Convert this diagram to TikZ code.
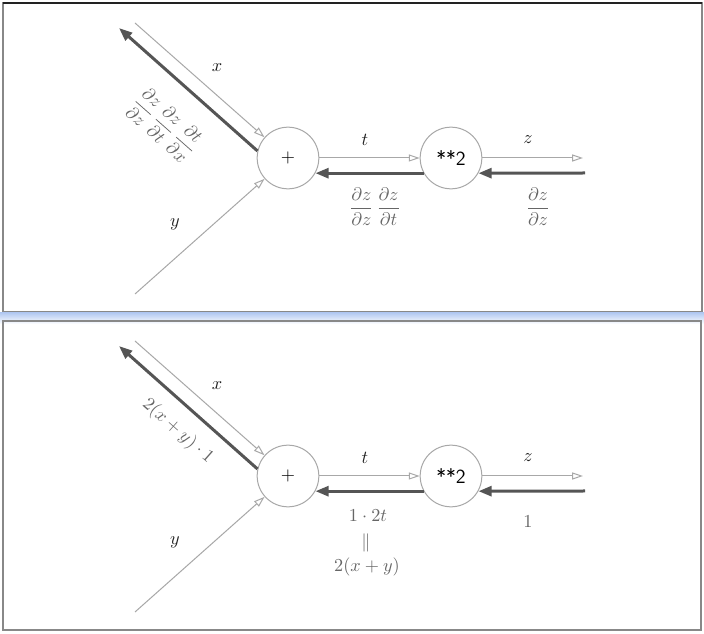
\documentclass[tikz,border=0pt]{standalone}
\usepackage{amsmath}
\usetikzlibrary{arrows.meta,calc}
\definecolor{lightc}{HTML}{A8A8A8}
\definecolor{darkc}{HTML}{555555}
\definecolor{circc}{HTML}{A8A8A8}
\definecolor{labc}{HTML}{222222}
\definecolor{derc}{HTML}{666666}
\definecolor{framec}{HTML}{888888}
\definecolor{bandc}{HTML}{B4CAF2}
\begin{document}
\begin{tikzpicture}[x=0.6pt,y=-0.6pt,
  font=\fontsize{10.95}{13}\selectfont,
  op/.style={circle,draw=circc,line width=0.6pt,minimum size=37pt,inner sep=0pt,fill=white},
  lightarr/.style={draw=lightc,line width=0.6pt,-{Triangle[open,length=6.5pt,width=4.2pt,fill=white]}},
  darkarr/.style={draw=darkc,line width=1.8pt,-{Triangle[length=8pt,width=6pt]}},
  lab/.style={text=labc,inner sep=0pt},
  der/.style={text=derc,inner sep=0pt},
  frame/.style={draw=framec,line width=0.9pt}]
\useasboundingbox (0,0) rectangle (704,634);
\fill[white] (0,0) rectangle (704,634);
% panels
\draw[frame] (3,3) rectangle (702,312);
\draw[labc,line width=1.2pt] (3,3) -- (702,3);
\shade[top color=bandc,bottom color=white] (0,313) rectangle (704,324);
\draw[frame] (3,321) rectangle (701,630);

% ---------- top panel ----------
\node[op] (plus1) at (288,158) {$+$};
\node[op] (sq1) at (451,158) {\sffamily\large **2};
\coordinate (xs1) at (135,23);
\coordinate (xd1) at (119,28);
\coordinate (ys1) at (135,294);
\coordinate (zs1) at (583,158);
\coordinate (zd1) at (585,173);
\draw[lightarr] (xs1) -- (plus1);
\draw[lightarr] (ys1) -- (plus1);
\draw[lightarr] (plus1) -- (sq1);
\draw[lightarr] (sq1) -- (zs1);
\draw[darkarr] (plus1.167.6) -- (xd1);
\draw[darkarr] (sq1.209.5) -- (plus1.-29);
\draw[darkarr] (zd1) -- (sq1.-29.5);
\node[lab] (tl1) at (365,140) {$t$};
\node[lab] (zl1) at (528,140) {$z$};
\node[lab] (xl1) at (217,68) {$x$};
\node[lab] (yl1) at (175,224) {$y$};
\node[der] (d1a) at (375,207) {$\dfrac{\partial z}{\partial z}\,\dfrac{\partial z}{\partial t}$};
\node[der] (d1b) at (538,207) {$\dfrac{\partial z}{\partial z}$};
\node[der,rotate=-41.4] (d1c) at (165,125) {$\dfrac{\partial z}{\partial z}\,\dfrac{\partial z}{\partial t}\,\dfrac{\partial t}{\partial x}$};

% ---------- bottom panel ----------
\node[op] (plus2) at (288,476) {$+$};
\node[op] (sq2) at (451,476) {\sffamily\large **2};
\coordinate (xs2) at (135,341);
\coordinate (xd2) at (119,346);
\coordinate (ys2) at (135,612);
\coordinate (zs2) at (583,476);
\coordinate (zd2) at (585,491);
\draw[lightarr] (xs2) -- (plus2);
\draw[lightarr] (ys2) -- (plus2);
\draw[lightarr] (plus2) -- (sq2);
\draw[lightarr] (sq2) -- (zs2);
\draw[darkarr] (plus2.167.6) -- (xd2);
\draw[darkarr] (sq2.209.5) -- (plus2.-29);
\draw[darkarr] (zd2) -- (sq2.-29.5);
\node[lab] (tl2) at (365,458) {$t$};
\node[lab] (zl2) at (528,458) {$z$};
\node[lab] (xl2) at (217,386) {$x$};
\node[lab] (yl2) at (175,542) {$y$};
\node[der] (d2a) at (368,516) {$1\cdot 2t$};
\node[der] (d2e) at (366,543) {$\|$};
\node[der] (d2f) at (367,567) {$2(x+y)$};
\node[der] (d2b) at (528,522) {$1$};
\node[der,rotate=-41.4] (d2c) at (178,431) {$2(x+y)\cdot 1$};
\end{tikzpicture}
\end{document}
